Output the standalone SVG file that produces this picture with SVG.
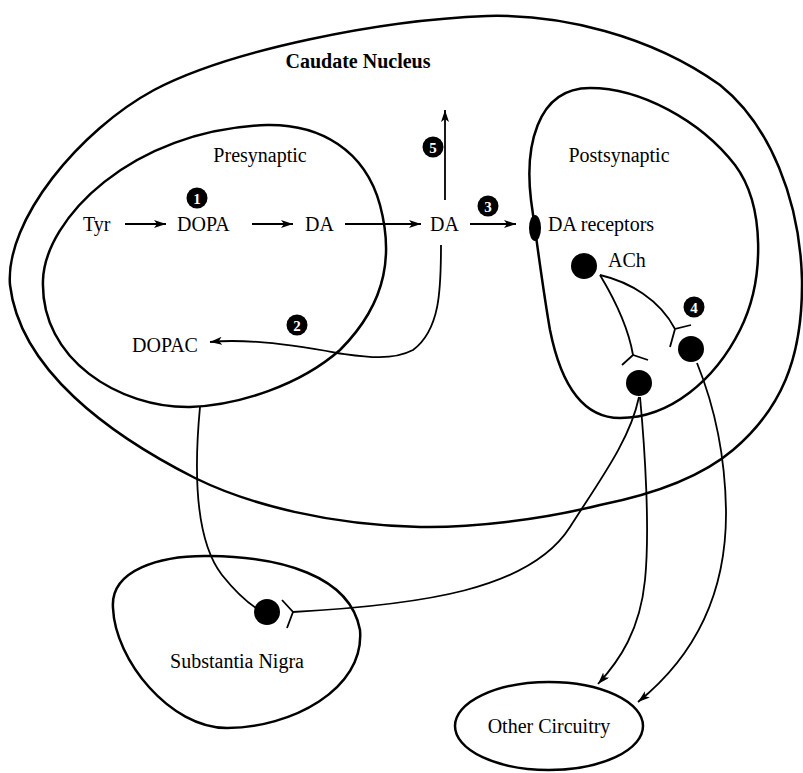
<svg xmlns="http://www.w3.org/2000/svg" width="803" height="773" viewBox="0 0 803 773">
<style>
.shape{fill:none;stroke:#000;stroke-width:2.5}
.line{fill:none;stroke:#000;stroke-width:1.8}
.arr{fill:none;stroke:#000;stroke-width:1.8;marker-end:url(#ah)}
text{font-family:"Liberation Serif","Times New Roman",serif;font-size:20px;fill:#000}
.bold{font-weight:bold}
.num circle{fill:#000}
.num text{fill:#fff;font-weight:bold;font-size:15px;text-anchor:middle}
.dot{fill:#000}
</style>
<defs>
<marker id="ah" markerUnits="userSpaceOnUse" markerWidth="14" markerHeight="10" refX="12" refY="4" orient="auto">
<path d="M0,0 L12,4 L0,8 L3,4 z" fill="#000"/>
</marker>
</defs>
<rect width="803" height="773" fill="#fff"/>

<g id="caudate">
<path class="shape" d="M487,16 C560,14 650,35 720,85 C770,125 800,200 802,280 C803,360 780,410 733,450 C700,478 650,495 600,505 C540,520 470,528 420,527 C330,525 250,505 195,478 C110,435 20,370 10,285 C5,220 80,130 154,90 C230,50 380,20 487,16 Z"/>
<text class="bold" x="358" y="68" text-anchor="middle">Caudate Nucleus</text>
</g>

<g id="presynaptic">
<path class="shape" d="M267,125 C320,124 365,150 380,205 C392,250 390,300 340,350 C300,385 240,405 190,407 C120,408 40,360 43,280 C45,220 130,130 267,125 Z"/>
<text x="260" y="162" text-anchor="middle">Presynaptic</text>
</g>

<g id="postsynaptic">
<path class="shape" d="M590,88 C640,88 700,120 735,165 C765,205 765,280 740,330 C715,380 670,418 620,418 C580,418 560,380 550,330 C543,290 538,250 531,200 C525,150 535,88 590,88 Z"/>
<text x="619" y="162" text-anchor="middle">Postsynaptic</text>
</g>

<g id="substantia-nigra">
<path class="shape" d="M113,608 C110,570 160,555 210,556 C280,557 350,575 360,630 C365,690 290,728 227,728 C170,728 115,660 113,608 Z"/>
<text x="237" y="668" text-anchor="middle">Substantia Nigra</text>
</g>

<g id="other-circuitry">
<ellipse class="shape" cx="549" cy="726" rx="94" ry="44"/>
<text x="549" y="733" text-anchor="middle">Other Circuitry</text>
</g>

<g id="labels">
<text x="83" y="231">Tyr</text>
<text x="177" y="231">DOPA</text>
<text x="305" y="231">DA</text>
<text x="430" y="231">DA</text>
<text x="548" y="231">DA receptors</text>
<text x="132" y="352">DOPAC</text>
<text x="608" y="267">ACh</text>
</g>

<g id="numbers">
<g class="num" id="n1"><circle cx="197" cy="198" r="10.5"/><text x="197" y="203.5">1</text></g>
<g class="num" id="n2"><circle cx="297" cy="325" r="10.5"/><text x="297" y="330.5">2</text></g>
<g class="num" id="n3"><circle cx="488" cy="206" r="10.5"/><text x="488" y="211.5">3</text></g>
<g class="num" id="n4"><circle cx="694" cy="307" r="10.5"/><text x="694" y="312.5">4</text></g>
<g class="num" id="n5"><circle cx="433" cy="147" r="10.5"/><text x="433" y="152.5">5</text></g>
</g>

<g id="neurons">
<ellipse class="dot" cx="535" cy="228" rx="6" ry="13"/>
<circle class="dot" cx="584" cy="266" r="13"/>
<circle class="dot" cx="639" cy="383" r="13"/>
<circle class="dot" cx="691" cy="349" r="13"/>
<circle class="dot" cx="267" cy="612" r="13"/>
</g>

<g id="connectors">
<path class="arr" d="M125,224 L166,224"/>
<path class="arr" d="M252,224 L293,224"/>
<path class="arr" d="M345,224 L421,224"/>
<path class="arr" d="M470,224 L516,224"/>
<path class="arr" d="M445,200 L445,110"/>
<path class="arr" d="M441,245 C441,290 440,330 413,350 C390,362 360,356 337,353 C300,346 250,338 210,342"/>
<path class="line" d="M200,407 C194,470 195,540 222,575 C238,595 250,604 256,608"/>
<path class="line" d="M293,612 C420,605 530,590 570,527 C600,480 630,440 639,397"/>
<path class="line" d="M282,600 L293,612 L287,628"/>
<path class="line" d="M600,275 C612,295 628,325 633,355"/>
<path class="line" d="M600,275 C630,282 660,300 675,329"/>
<path class="line" d="M622,365 L633,355 L648,360"/>
<path class="line" d="M670,347 L675,329 L691,325"/>
<path class="arr" d="M640,397 C645,450 650,530 645,580 C640,630 620,660 598,684"/>
<path class="arr" d="M697,363 C712,400 725,450 726,510 C727,600 690,660 638,702"/>
</g>
</svg>
